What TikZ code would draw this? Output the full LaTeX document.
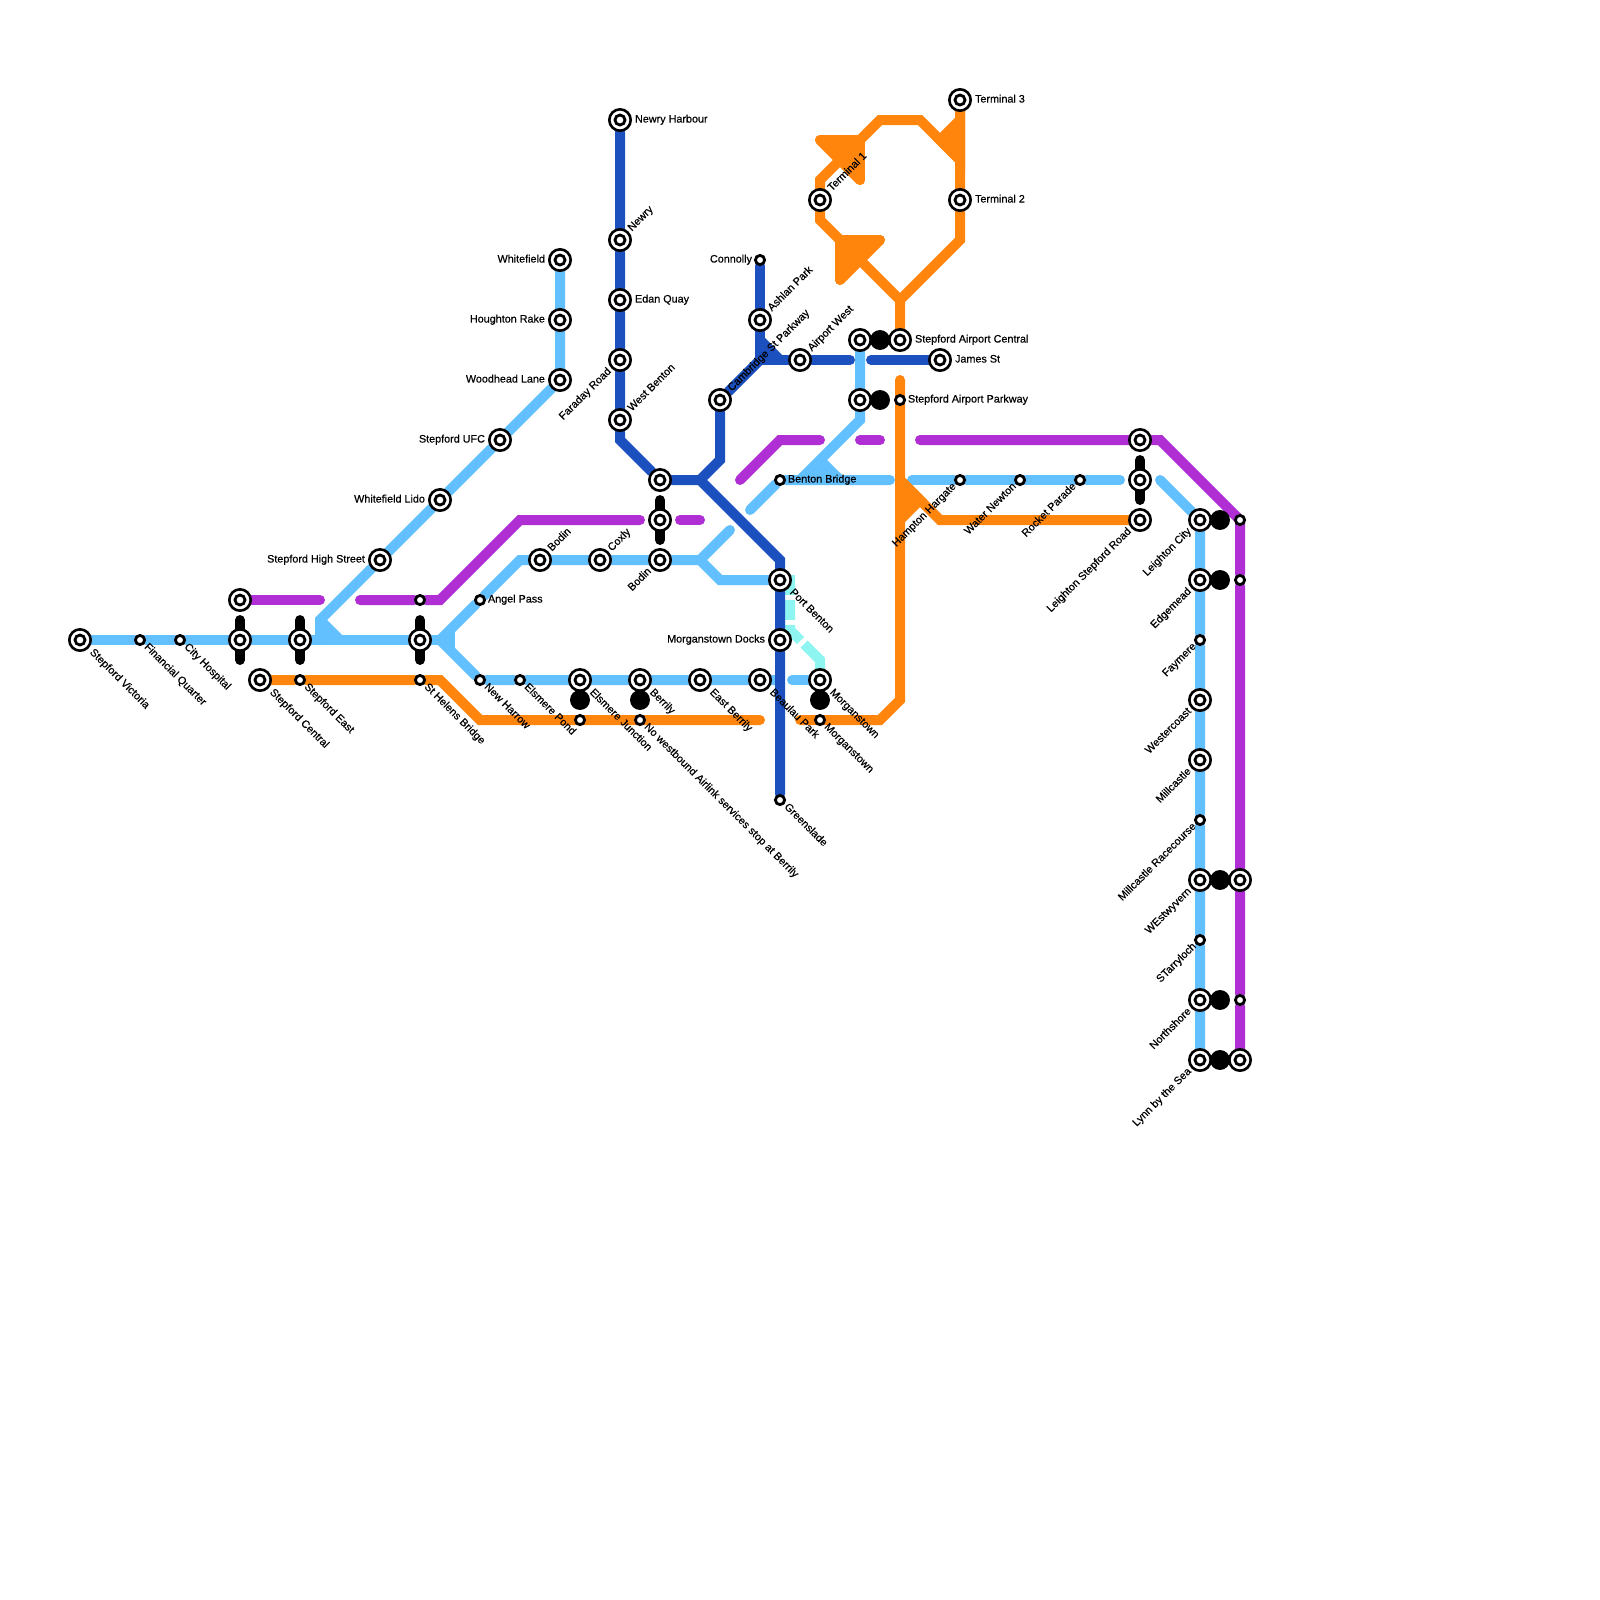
\documentclass[tikz,border=0pt]{standalone}
\usepackage{fontspec}
\setmainfont[FakeBold=0.5]{Liberation Sans}
\usetikzlibrary{backgrounds}

\definecolor{skyc}{HTML}{62C0FF}
\definecolor{navyc}{HTML}{1B50BE}
\definecolor{violetc}{HTML}{B02FD4}
\definecolor{amberc}{HTML}{FF850C}
\definecolor{aquac}{HTML}{8FF5F0}

\tikzset{
  route/.style={line width=7.11pt, line cap=round, line join=miter},
  sky/.style={route, draw=skyc},
  navy/.style={route, draw=navyc},
  violet/.style={route, draw=violetc},
  amber/.style={route, draw=amberc},
  aqua/.style={line width=7.11pt, draw=aquac},
  rodline/.style={route, draw=black},
  bigstn/.style={circle, draw=black, fill=white, line width=1.85pt, inner sep=0pt, minimum size=15.2pt,
    path picture={\draw[black, line width=2pt] (path picture bounding box.center) circle (3.56pt);}},
  smallstn/.style={circle, draw=black, fill=white, line width=2pt, inner sep=0pt, minimum size=6.55pt},
  blob/.style={circle, fill=black, inner sep=0pt, minimum size=14.2pt},
  lbl/.style={font=\fontsize{7.68}{9}\selectfont, inner sep=0pt, text height=4.5pt, text depth=0.9pt, text=black},
  lble/.style={lbl, anchor=west, xshift=#1},
  lblw/.style={lbl, anchor=east, xshift=-#1},
  lblse/.style={lbl, anchor=west, rotate=-45, xshift=#1},
  lblne/.style={lbl, anchor=west, rotate=45, xshift=#1},
  lblsw/.style={lbl, anchor=east, rotate=45, xshift=-#1}
}

\begin{document}
\begin{tikzpicture}[x=0.5cm, y=-0.5cm]
  \useasboundingbox (0,0) rectangle (80,80);

  % interchange blobs go first, rings sit on top of them
  \foreach \nm/\x/\y in {bjunction/29/35, bberrily/32/35, bmorgan/41/35, bcentral/44/17, bparkway/44/20,
    bleighton/61/26, bedge/61/29, bwest/61/44, bnorth/61/50, blynn/61/53}
    \node[blob] (\nm) at (\x,\y) {};

  \foreach \nm/\x/\y in {
    victoria/4/32, violetwest/12/30, skywest/12/32, east/15/32, central/13/34, helens/21/32,
    highstreet/19/28, lido/22/25, ufc/25/22, woodhead/28/19, houghton/28/16, whitefield/28/13,
    bodinw/27/28, coxly/30/28, bodin/33/28, bodinmid/33/26, bodintop/33/24,
    junction/29/34, berrily/32/34, eastberrily/35/34, beaulau/38/34, morgan/41/34,
    portbenton/39/29, docks/39/32,
    harbour/31/6, newry/31/12, edan/31/15, faraday/31/18, westbenton/31/21,
    cambridge/36/20, ashlan/38/16, airportwest/40/18, james/47/18,
    skycentral/43/17, amcentral/45/17, skyparkway/43/20,
    termone/41/10, termtwo/48/10, termthree/48/5,
    lstop/57/22, lmid/57/24, lroad/57/26,
    lcity/60/26, edgemead/60/29, westercoast/60/35, millcastle/60/38,
    wyvern/60/44, northshore/60/50, lynn/60/53, vwyvern/62/44, vlynn/62/53}
    \node[bigstn] (\nm) at (\x,\y) {};

  \foreach \nm/\x/\y in {
    financial/7/32, hospital/9/32, helensv/21/30, helensa/21/34, easta/15/34,
    angel/24/30, harrow/24/34, pond/26/34, junctiona/29/36, airlink/32/36, morgana/41/36,
    greenslade/39/40, connolly/38/13, bridge/39/24, parkway/45/20,
    hampton/48/24, water/51/24, rocket/54/24,
    vcity/62/26, vedge/62/29, faymere/60/32, race/60/41, starry/60/47, vnorth/62/50}
    \node[smallstn] (\nm) at (\x,\y) {};

  % free ends of the routes
  \coordinate (vwestend) at (16,30);
  \coordinate (veastend) at (18,30);
  \coordinate (vmidend) at (32,26);
  \coordinate (vshorta) at (34,26);
  \coordinate (vshortb) at (35,26);
  \coordinate (vbenta) at (37,24);
  \coordinate (vbentb) at (41,22);
  \coordinate (vstuba) at (43,22);
  \coordinate (vstubb) at (44,22);
  \coordinate (vlonga) at (46,22);
  \coordinate (sbranchend) at (36.5,26.5);
  \coordinate (sleft) at (37.5,25.5);
  \coordinate (sbreaka) at (44.5,24);
  \coordinate (sbreakb) at (45.6,24);
  \coordinate (sreach) at (56,24);
  \coordinate (sresume) at (58,24);
  \coordinate (sharbour) at (39,34);
  \coordinate (smorgan) at (39.6,34);
  \coordinate (ngapa) at (42.5,18);
  \coordinate (ngapb) at (43.55,18);
  \coordinate (atop) at (45,19);
  \coordinate (awesta) at (38,36);
  \coordinate (aeasta) at (40,36);

  \begin{scope}[on background layer]
    % sky line
    \draw[sky] (victoria) -- (financial) -- (hospital) -- (skywest) -- (east) -- (helens) -- (22.5,32);
    \draw[sky] (whitefield) -- (houghton) -- (woodhead) -- (ufc) -- (lido) -- (highstreet) -- (16,31) -- (16,32);
    \draw[sky, line cap=butt] (16,31) -- (17,32);
    \fill[skyc] (16,31) -- (17,32) -- (16,32) -- cycle;
    \draw[sky] (22,32) -- (angel) -- (26,28) -- (bodinw) -- (coxly) -- (bodin) -- (35,28) -- (sbranchend);
    \draw[sky] (35,28) -- (36,29) -- (portbenton);
    \draw[sky] (22,32) -- (harrow) -- (pond) -- (junction) -- (berrily) -- (eastberrily) -- (beaulau) -- (sharbour);
    \draw[sky] (smorgan) -- (morgan);
    \draw[sky, line cap=butt] (22.5,31.6) -- (22.5,32.4);
    \draw[sky] (skycentral) -- (skyparkway) -- (43,21) -- (40,24) -- (bridge) -- (sbreaka);
    \draw[sky] (sleft) -- (bridge);
    \draw[sky, line cap=butt] (41,23) -- (42,24);
    \fill[skyc] (40,24) -- (41,23) -- (42,24) -- cycle;
    \draw[sky] (sbreakb) -- (hampton) -- (water) -- (rocket) -- (sreach);
    \draw[sky] (sresume) -- (lcity) -- (edgemead) -- (faymere) -- (westercoast) -- (millcastle) -- (race) -- (wyvern) -- (starry) -- (northshore) -- (lynn);

    % aqua line
    \draw[aqua, dash pattern=on 14.2pt off 3.56pt] (39.5,28.75) -- (39.5,31.5) -- (40.03,32.03);
    \draw[aqua] (40.2,32.2) -- (41,33) -- (41,34);

    % violet line
    \draw[violet] (violetwest) -- (vwestend);
    \draw[violet] (veastend) -- (helensv) -- (22,30) -- (26,26) -- (vmidend);
    \draw[violet] (vshorta) -- (vshortb);
    \draw[violet] (vbenta) -- (39,22) -- (vbentb);
    \draw[violet] (vstuba) -- (vstubb);
    \draw[violet] (vlonga) -- (lstop) -- (58,22) -- (62,26) -- (vedge) -- (vwyvern) -- (vnorth) -- (vlynn);

    % amber line
    \draw[amber] (central) -- (easta) -- (helensa) -- (22,34) -- (24,36) -- (awesta);
    \draw[amber] (aeasta) -- (44,36) -- (45,35) -- (atop);
    \draw[amber] (45,24) -- (47,26) -- (lroad);
    \draw[amber, fill=amberc] (45,24) -- (46,25) -- (45,26);
    \draw[amber] (amcentral) -- (45,15) -- (48,12) -- (termtwo) -- (termthree);
    \draw[amber] (45,15) -- (41,11) -- (termone) -- (41,9) -- (44,6) -- (46,6) -- (48,8);
    \draw[amber, fill=amberc] (42,14) -- (42,12) -- (44,12);
    \draw[amber] (44,12) -- (42,14);
    \draw[amber, fill=amberc] (41,7) -- (43,7) -- (43,9);
    \draw[amber] (43,9) -- (41,7);
    \draw[amber, fill=amberc] (47,7) -- (48,6) -- (48,8) -- cycle;

    % navy line
    \draw[navy] (harbour) -- (newry) -- (edan) -- (faraday) -- (westbenton) -- (31,22) -- (bodintop) -- (35,24) -- (39,28) -- (portbenton) -- (docks) -- (greenslade);
    \draw[navy] (35,24) -- (36,23) -- (cambridge) -- (38,18);
    \draw[navy] (connolly) -- (ashlan) -- (38,18) -- (airportwest) -- (ngapa);
    \draw[navy] (ngapb) -- (james);
    \draw[navy, line cap=butt] (38,17) -- (39,18);
    \fill[navyc] (38,17) -- (39,18) -- (38,18) -- cycle;

    % black bars across the interchanges
    \foreach \nm in {skywest, east, helens, bodinmid, lmid}
      \draw[rodline] ([yshift=14.2pt]\nm.center) -- ([yshift=-14.2pt]\nm.center);
  \end{scope}

  % labels
  \foreach \nm/\txt/\d in {
    victoria/Stepford Victoria/11pt, financial/Financial Quarter/5.5pt, hospital/City Hospital/5.5pt,
    central/Stepford Central/11pt, easta/Stepford East/5.5pt, helensa/St Helens Bridge/5.5pt,
    harrow/New Harrow/5.5pt, pond/Elsmere Pond/5.5pt, junction/Elsmere Junction/11pt, berrily/Berrily/11pt,
    airlink/No westbound Airlink services stop at Berrily/5.5pt, eastberrily/East Berrily/11pt,
    beaulau/Beaulau Park/11pt, morgan/Morganstown/11pt, morgana/Morganstown/5.5pt,
    portbenton/Port Benton/11pt, greenslade/Greenslade/5.5pt}
    \node[lblse=\d] (l\nm) at (\nm) {\txt};

  \foreach \nm/\txt/\d in {
    angel/Angel Pass/5.5pt, harbour/Newry Harbour/10.5pt, edan/Edan Quay/10.5pt, bridge/Benton Bridge/5.5pt,
    james/James St/10.5pt, amcentral/Stepford Airport Central/10.5pt, parkway/Stepford Airport Parkway/5.5pt,
    termtwo/Terminal 2/10.5pt, termthree/Terminal 3/10.5pt}
    \node[lble=\d] (l\nm) at (\nm) {\txt};

  \foreach \nm/\txt/\d in {
    whitefield/Whitefield/10.5pt, houghton/Houghton Rake/10.5pt, woodhead/Woodhead Lane/10.5pt, ufc/Stepford UFC/10.5pt,
    lido/Whitefield Lido/10.5pt, highstreet/Stepford High Street/10.5pt, connolly/Connolly/5.5pt, docks/Morganstown Docks/10.5pt}
    \node[lblw=\d] (l\nm) at (\nm) {\txt};

  \foreach \nm/\txt/\d in {
    newry/Newry/10pt, westbenton/West Benton/10pt, cambridge/Cambridge St Parkway/10pt, ashlan/Ashlan Park/10pt,
    airportwest/Airport West/10pt, termone/Terminal 1/10pt, bodinw/Bodin/10pt, coxly/Coxly/10pt}
    \node[lblne=\d] (l\nm) at (\nm) {\txt};

  \foreach \nm/\txt/\d in {
    faraday/Faraday Road/10pt, bodin/Bodin/10pt, hampton/Hampton Hargate/5pt, water/Water Newton/5pt,
    rocket/Rocket Parade/5pt, lroad/Leighton Stepford Road/10pt, lcity/Leighton City/10pt, edgemead/Edgemead/10pt,
    faymere/Faymere/5pt, westercoast/Westercoast/10pt, millcastle/Millcastle/10pt, race/Millcastle Racecourse/5pt,
    wyvern/WEstwyvern/10pt, starry/STarryloch/5pt, northshore/Northshore/10pt, lynn/Lynn by the Sea/10pt}
    \node[lblsw=\d] (l\nm) at (\nm) {\txt};
\end{tikzpicture}
\end{document}
